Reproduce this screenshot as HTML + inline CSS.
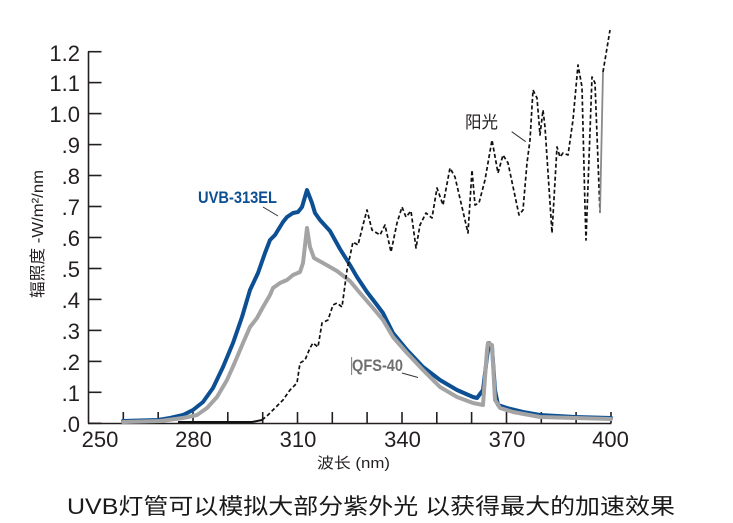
<!DOCTYPE html>
<html>
<head>
<meta charset="utf-8">
<style>
html,body{margin:0;padding:0;background:#fff;}
svg{display:block;}
text{font-family:"Liberation Sans","Noto Sans CJK SC",sans-serif;fill:#231f20;}
</style>
</head>
<body>
<svg width="733" height="523" viewBox="0 0 733 523" xmlns="http://www.w3.org/2000/svg">
<rect width="733" height="523" fill="#fff"/>

<!-- axes -->
<g stroke="#231f20" stroke-width="1.6" fill="none">
  <line x1="88.5" y1="51.5" x2="88.5" y2="423.5"/>
  <line x1="88" y1="423.5" x2="611.5" y2="423.5"/>
  <!-- y ticks -->
  <line x1="88" y1="423.3" x2="101.5" y2="423.3"/>
  <line x1="88" y1="392.3" x2="101.5" y2="392.3"/>
  <line x1="88" y1="361.4" x2="101.5" y2="361.4"/>
  <line x1="88" y1="330.4" x2="101.5" y2="330.4"/>
  <line x1="88" y1="299.4" x2="101.5" y2="299.4"/>
  <line x1="88" y1="268.5" x2="101.5" y2="268.5"/>
  <line x1="88" y1="237.5" x2="101.5" y2="237.5"/>
  <line x1="88" y1="206.5" x2="101.5" y2="206.5"/>
  <line x1="88" y1="175.5" x2="101.5" y2="175.5"/>
  <line x1="88" y1="144.6" x2="101.5" y2="144.6"/>
  <line x1="88" y1="113.6" x2="101.5" y2="113.6"/>
  <line x1="88" y1="82.6" x2="101.5" y2="82.6"/>
  <line x1="88" y1="51.7" x2="101.5" y2="51.7"/>
  <!-- x ticks -->
  <line x1="123.3" y1="423" x2="123.3" y2="412"/>
  <line x1="158.2" y1="423" x2="158.2" y2="412"/>
  <line x1="193" y1="423" x2="193" y2="412"/>
  <line x1="227.8" y1="423" x2="227.8" y2="412"/>
  <line x1="262.7" y1="423" x2="262.7" y2="412"/>
  <line x1="297.5" y1="423" x2="297.5" y2="412"/>
  <line x1="332.3" y1="423" x2="332.3" y2="412"/>
  <line x1="367.1" y1="423" x2="367.1" y2="412"/>
  <line x1="402" y1="423" x2="402" y2="412"/>
  <line x1="436.8" y1="423" x2="436.8" y2="412"/>
  <line x1="471.6" y1="423" x2="471.6" y2="412"/>
  <line x1="506.5" y1="423" x2="506.5" y2="412"/>
  <line x1="541.3" y1="423" x2="541.3" y2="412"/>
  <line x1="576.1" y1="423" x2="576.1" y2="412"/>
  <line x1="611" y1="423" x2="611" y2="412"/>
</g>

<!-- y tick labels -->
<g font-size="22" text-anchor="end">
  <text x="80" y="432">.0</text>
  <text x="80" y="401">.1</text>
  <text x="80" y="370">.2</text>
  <text x="80" y="339">.3</text>
  <text x="80" y="308">.4</text>
  <text x="80" y="277">.5</text>
  <text x="80" y="246">.6</text>
  <text x="80" y="215">.7</text>
  <text x="80" y="184">.8</text>
  <text x="80" y="153">.9</text>
  <text x="80" y="122">1.0</text>
  <text x="80" y="91">1.1</text>
  <text x="80" y="61">1.2</text>
</g>

<!-- x tick labels -->
<g font-size="22" text-anchor="middle">
  <text x="100" y="447">250</text>
  <text x="193.5" y="447">280</text>
  <text x="298" y="447">310</text>
  <text x="402.5" y="447">340</text>
  <text x="507" y="447">370</text>
  <text x="610.5" y="447">400</text>
</g>

<!-- axis titles -->
<text x="317" y="468" font-size="15" textLength="73" lengthAdjust="spacingAndGlyphs">波长 (nm)</text>
<text transform="translate(43,234) rotate(-90)" font-size="16" text-anchor="middle" textLength="128" lengthAdjust="spacingAndGlyphs">辐照度 -W/m²/nm</text>

<!-- UVB-313EL (blue) -->
<path fill="none" stroke="#0d4f93" stroke-width="4" stroke-linejoin="round" stroke-linecap="round"
 d="M123,421 L158,420 L170,418 L183,415 L193,410 L203,402 L213,388 L223,367 L233,343 L242,317 L250,290 L258,273 L265,253 L270,240 L275,235 L283,222 L287,217 L293,213 L298,212 L302,207 L307,190 L312,203 L315,213 L320,220 L330,231 L340,249 L350,265 L357,277 L367,292 L377,305 L383,313 L393,333 L407,350 L423,367 L440,380 L457,390 L473,397 L477,398 L483,390 L487,357 L489,343 L492,347 L495,390 L498,405 L507,408 L523,412 L540,415 L575,417 L611,418"/>

<!-- QFS-40 (gray) -->
<path fill="none" stroke="#a4a4a4" stroke-width="4" stroke-linejoin="round" stroke-linecap="round"
 d="M123,422 L160,421 L183,418 L197,415 L207,408 L217,397 L227,380 L235,362 L243,343 L250,327 L257,318 L263,307 L270,295 L273,288 L280,283 L287,280 L293,275 L300,272 L303,263 L307,228 L310,247 L314,258 L323,263 L337,271 L350,281 L360,293 L373,308 L383,320 L393,337 L407,353 L423,370 L440,387 L457,397 L473,403 L483,405 L487,350 L488,343 L492,345 L495,400 L500,408 L513,412 L540,417 L575,418 L611,419"/>

<!-- Sunlight (dashed) -->
<path fill="none" stroke="#111" stroke-width="2" d="M178,422 L252,422 L262,420"/>
<path fill="none" stroke="#111" stroke-width="1.7" stroke-dasharray="4 2.5" stroke-linejoin="round"
 d="M262,420 L268,415 L273,410 L283,400 L290,390 L297,383 L300,363 L305,360 L310,348 L313,343 L318,347 L322,323 L328,320 L333,305 L337,303 L342,307 L347,270 L353,242 L358,245 L363,225 L367,210 L372,230 L380,235 L385,225 L391,252 L397,223 L402,207 L406,217 L411,211 L416,248 L420,225 L426,213 L432,218 L437,188 L443,205 L450,168 L455,177 L468,233 L472,170 L475,205 L479,203 L485,180 L492,140 L498,173 L503,155 L508,163 L519,215 L523,210 L527,163 L530,140 L533,90 L537,98 L540,135 L543,110 L545,127 L552,233 L557,147 L560,157 L563,153 L568,155 L573,120 L578,65 L582,87 L585,207 L586,240 L592,77 L595,83 L600,213"/>
<path fill="none" stroke="#8a8a8a" stroke-width="1.8" d="M600,213 L603,72"/>
<path fill="none" stroke="#111" stroke-width="1.7" stroke-dasharray="4 2.5" d="M603,72 L610,30"/>

<!-- labels -->
<text x="198" y="203" font-size="17" font-weight="bold" style="fill:#0d4f93" textLength="79" lengthAdjust="spacingAndGlyphs">UVB-313EL</text>
<line x1="263" y1="207" x2="278" y2="216" stroke="#333" stroke-width="1"/>

<text x="352" y="371" font-size="17" font-weight="bold" style="fill:#6f6f6f" textLength="51" lengthAdjust="spacingAndGlyphs">QFS-40</text>
<line x1="351.7" y1="357" x2="351.7" y2="375" stroke="#555" stroke-width="0.8"/>
<line x1="402" y1="373" x2="418" y2="377.5" stroke="#333" stroke-width="1"/>

<text x="465" y="128" font-size="17" textLength="33" lengthAdjust="spacingAndGlyphs">阳光</text>
<line x1="511.7" y1="131.7" x2="525.7" y2="141.7" stroke="#333" stroke-width="1"/>

<!-- caption -->
<text x="67" y="514" font-size="22" style="fill:#1a1a1a" textLength="608" lengthAdjust="spacingAndGlyphs">UVB灯管可以模拟大部分紫外光 以获得最大的加速效果</text>
</svg>
</body>
</html>
